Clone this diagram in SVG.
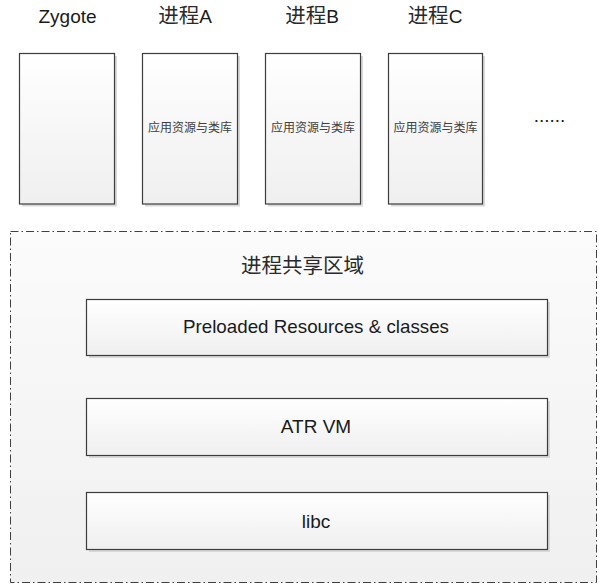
<svg xmlns="http://www.w3.org/2000/svg" width="599" height="585" viewBox="0 0 599 585">
<defs>
<linearGradient id="boxGrad" x1="0" y1="0" x2="0" y2="1">
<stop offset="0" stop-color="#ffffff"/>
<stop offset="1" stop-color="#efefef"/>
</linearGradient>
<linearGradient id="areaGrad" x1="0" y1="0" x2="0" y2="1">
<stop offset="0" stop-color="#fbfbfb"/>
<stop offset="1" stop-color="#f0f0f0"/>
</linearGradient>
<style>
.shadow{fill:#d9d9d9;}
.box{fill:url(#boxGrad);stroke:#3c3c3c;stroke-width:1.2;}
.area{fill:url(#areaGrad);stroke:#404040;stroke-width:1;stroke-dasharray:8 3 1.5 3;}
.lbl{font-family:"Liberation Sans","Noto Sans CJK SC",sans-serif;font-size:19px;fill:#1a1a1a;text-anchor:middle;}
.cjk{font-size:20.5px;fill:#2a2a2a;}
.small{font-family:"Liberation Sans","Noto Sans CJK SC",sans-serif;font-size:12px;fill:#404040;text-anchor:middle;}
</style>
</defs>
<rect width="599" height="585" fill="#ffffff"/>

<g id="shared-area">
<rect class="area" x="10.5" y="231.5" width="586" height="351"/>
<text class="lbl cjk" x="302.5" y="273">进程共享区域</text>
</g>

<g id="zygote">
<text class="lbl" x="67.5" y="23">Zygote</text>
<rect class="shadow" x="22" y="56" width="95" height="150.5"/>
<rect class="box" x="19.5" y="53.5" width="95" height="150.5"/>
</g>

<g id="process-a">
<text class="lbl" x="185" y="23"><tspan class="cjk">进程</tspan>A</text>
<rect class="shadow" x="145" y="56" width="95" height="150.5"/>
<rect class="box" x="142.5" y="53.5" width="95" height="150.5"/>
<text class="small" x="190" y="132">应用资源与类库</text>
</g>

<g id="process-b">
<text class="lbl" x="312" y="23"><tspan class="cjk">进程</tspan>B</text>
<rect class="shadow" x="268" y="56" width="95" height="150.5"/>
<rect class="box" x="265.5" y="53.5" width="95" height="150.5"/>
<text class="small" x="313" y="132">应用资源与类库</text>
</g>

<g id="process-c">
<text class="lbl" x="435" y="23"><tspan class="cjk">进程</tspan>C</text>
<rect class="shadow" x="391" y="56" width="94" height="150.5"/>
<rect class="box" x="388.5" y="53.5" width="94" height="150.5"/>
<text class="small" x="435.5" y="132">应用资源与类库</text>
</g>

<g id="more">
<text class="lbl" x="549.5" y="122">......</text>
</g>

<g id="preloaded">
<rect class="shadow" x="89" y="302" width="461" height="56"/>
<rect class="box" x="86.5" y="299.5" width="461" height="56"/>
<text class="lbl" x="316" y="333" textLength="266" lengthAdjust="spacingAndGlyphs">Preloaded Resources &amp; classes</text>
</g>

<g id="atr-vm">
<rect class="shadow" x="89" y="401" width="461" height="57"/>
<rect class="box" x="86.5" y="398.5" width="461" height="57"/>
<text class="lbl" x="316" y="433">ATR VM</text>
</g>

<g id="libc">
<rect class="shadow" x="89" y="495" width="461" height="57"/>
<rect class="box" x="86.5" y="492.5" width="461" height="57"/>
<text class="lbl" x="316" y="528">libc</text>
</g>

<g id="connectors"></g>
</svg>
